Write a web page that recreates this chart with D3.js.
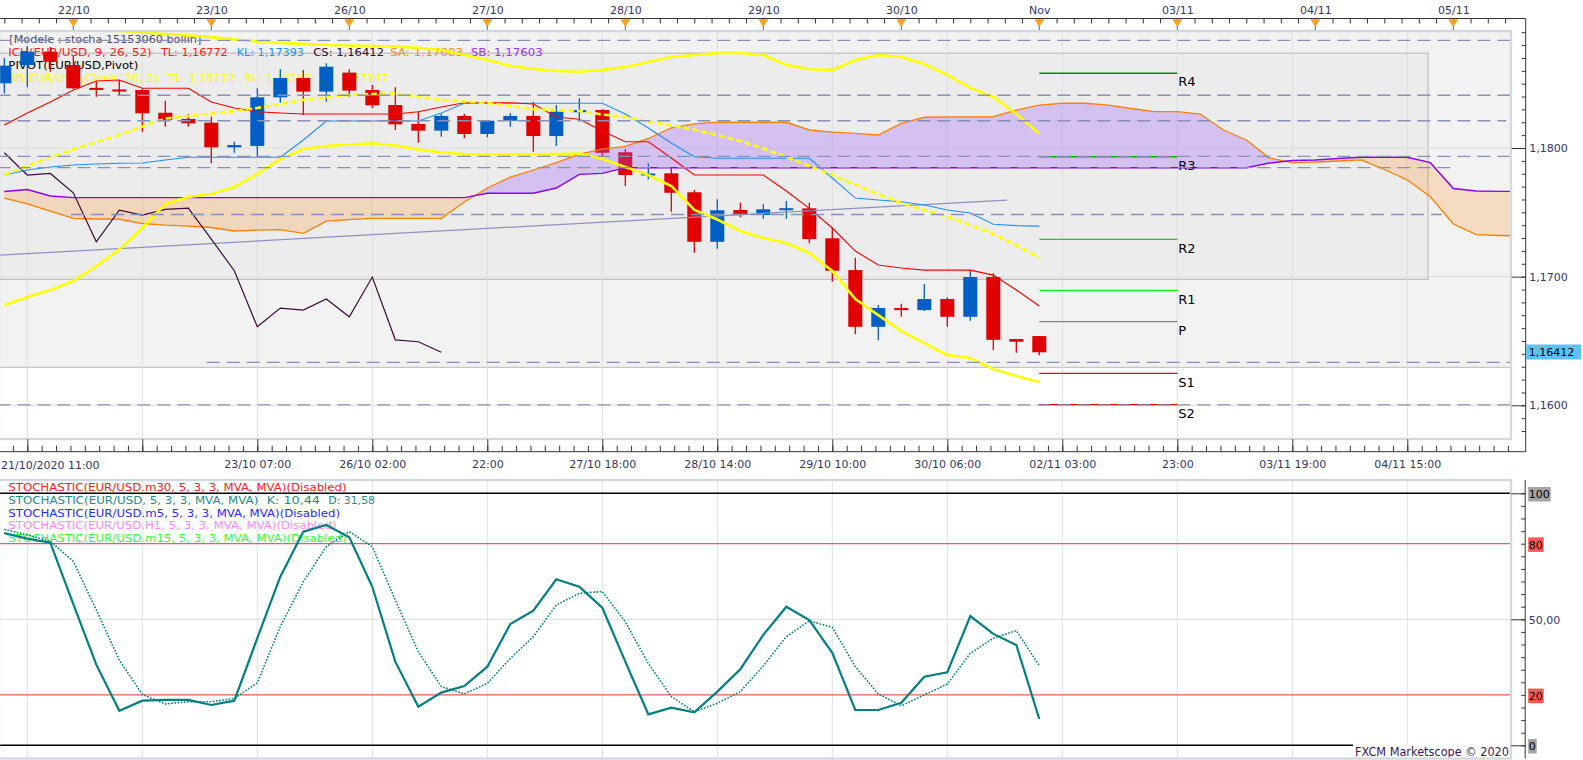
<!DOCTYPE html>
<html>
<head>
<meta charset="utf-8">
<title>EUR/USD H4 - Marketscope</title>
<script src="https://cdn.jsdelivr.net/npm/d3@7/dist/d3.min.js"></script>
<style>
html,body{margin:0;padding:0;background:#fff;overflow:hidden}
svg{display:block}
text{font-family:"DejaVu Sans",Verdana,sans-serif}
</style>
</head>
<body>
<svg id="chart" width="1583" height="760"></svg>
<script>
// ---------------- DATA ----------------
const candleTimes=["21/10 11:00","21/10 15:00","21/10 19:00","21/10 23:00","22/10 03:00","22/10 07:00","22/10 11:00","22/10 15:00","22/10 19:00","22/10 23:00","23/10 03:00","23/10 07:00","23/10 11:00","23/10 15:00","23/10 19:00","25/10 22:00","26/10 02:00","26/10 06:00","26/10 10:00","26/10 14:00","26/10 18:00","26/10 22:00","27/10 02:00","27/10 06:00","27/10 10:00","27/10 14:00","27/10 18:00","27/10 22:00","28/10 02:00","28/10 06:00","28/10 10:00","28/10 14:00","28/10 18:00","28/10 22:00","29/10 02:00","29/10 06:00","29/10 10:00","29/10 14:00","29/10 18:00","29/10 22:00","30/10 02:00","30/10 06:00","30/10 10:00","30/10 14:00","30/10 18:00","01/11 23:00"];
const openP=[1.18503,1.18645,1.18749,1.18645,1.18467,1.18455,1.18451,1.18274,1.18226,1.18197,1.18005,1.18016,1.18394,1.18544,1.18438,1.18586,1.18451,1.18334,1.18187,1.18135,1.18249,1.18109,1.18212,1.18249,1.18093,1.18278,1.18295,1.17967,1.17794,1.17803,1.17656,1.17271,1.17518,1.17479,1.17524,1.17531,1.17298,1.17051,1.16610,1.16756,1.16740,1.16826,1.16688,1.16997,1.16515,1.16538];
const highP=[1.18700,1.18793,1.18785,1.18715,1.18516,1.18529,1.18460,1.18368,1.18264,1.18243,1.18049,1.18464,1.18612,1.18607,1.18659,1.18612,1.18490,1.18472,1.18282,1.18264,1.18264,1.18218,1.18272,1.18360,1.18334,1.18386,1.18301,1.17990,1.17881,1.17850,1.17673,1.17601,1.17575,1.17562,1.17588,1.17575,1.17383,1.17147,1.16779,1.16789,1.16942,1.16839,1.17046,1.17026,1.16515,1.16538];
const lowP=[1.18425,1.18472,1.18593,1.18459,1.18399,1.18412,1.18127,1.18166,1.18166,1.17881,1.17963,1.17932,1.18352,1.18257,1.18360,1.18399,1.18311,1.18140,1.18041,1.18088,1.18075,1.18083,1.18166,1.17971,1.18016,1.18223,1.17932,1.17705,1.17757,1.17505,1.17186,1.17217,1.17461,1.17450,1.17450,1.17259,1.16960,1.16554,1.16507,1.16688,1.16733,1.16610,1.16657,1.16429,1.16408,1.16390];
const closeP=[1.18640,1.18749,1.18671,1.18464,1.18459,1.18447,1.18270,1.18218,1.18192,1.18005,1.18023,1.18394,1.18544,1.18438,1.18632,1.18446,1.18332,1.18184,1.18135,1.18249,1.18109,1.18212,1.18249,1.18093,1.18282,1.18295,1.17963,1.17790,1.17802,1.17652,1.17271,1.17516,1.17479,1.17523,1.17532,1.17292,1.17046,1.16610,1.16756,1.16740,1.16826,1.16688,1.16997,1.16509,1.16494,1.16412];
const tenkan=[1.18179,1.18272,1.18358,1.18451,1.18521,1.18529,1.18464,1.18464,1.18464,1.18358,1.18311,1.18282,1.18272,1.18264,1.18264,1.18264,1.18264,1.18264,1.18282,1.18319,1.18352,1.18352,1.18352,1.18342,1.18241,1.18223,1.18132,1.18049,1.18049,1.17922,1.17790,1.17790,1.17790,1.17790,1.17666,1.17531,1.17378,1.17199,1.17090,1.17067,1.17051,1.17051,1.17051,1.17012,1.16896,1.16772];
const kijun=[1.17790,1.17829,1.17852,1.17868,1.17876,1.17881,1.17883,1.17907,1.17928,1.17928,1.17928,1.17928,1.17928,1.18062,1.18210,1.18210,1.18210,1.18210,1.18210,1.18272,1.18348,1.18348,1.18348,1.18348,1.18348,1.18348,1.18348,1.18264,1.18156,1.18039,1.17932,1.17920,1.17920,1.17920,1.17920,1.17920,1.17767,1.17611,1.17596,1.17582,1.17557,1.17518,1.17495,1.17407,1.17397,1.17393];
const senkouA=[1.17611,1.17565,1.17510,1.17453,1.17448,1.17446,1.17413,1.17401,1.17393,1.17382,1.17355,1.17362,1.17366,1.17337,1.17432,1.17444,1.17453,1.17453,1.17453,1.17453,1.17580,1.17689,1.17774,1.17829,1.17887,1.17953,1.17992,1.18012,1.18074,1.18156,1.18187,1.18200,1.18200,1.18200,1.18200,1.18140,1.18124,1.18113,1.18101,1.18191,1.18239,1.18241,1.18241,1.18243,1.18295,1.18334,1.18348,1.18348,1.18334,1.18307,1.18282,1.18282,1.18264,1.18140,1.18062,1.17922,1.17887,1.17891,1.17899,1.17907,1.17833,1.17751,1.17621,1.17409,1.17327,1.17320,1.17316];
const senkouB=[1.17662,1.17677,1.17627,1.17614,1.17614,1.17614,1.17614,1.17614,1.17614,1.17614,1.17614,1.17614,1.17614,1.17614,1.17614,1.17614,1.17614,1.17614,1.17614,1.17614,1.17614,1.17648,1.17648,1.17648,1.17689,1.17795,1.17803,1.17847,1.17847,1.17847,1.17847,1.17847,1.17847,1.17847,1.17847,1.17847,1.17847,1.17847,1.17847,1.17847,1.17847,1.17847,1.17847,1.17847,1.17847,1.17847,1.17847,1.17847,1.17847,1.17847,1.17847,1.17847,1.17847,1.17847,1.17847,1.17883,1.17903,1.17907,1.17918,1.17928,1.17928,1.17928,1.17886,1.17685,1.17666,1.17663,1.17663];
const bbUpper=[1.18980,1.18964,1.18949,1.18933,1.18921,1.18910,1.18898,1.18886,1.18875,1.18862,1.18844,1.18828,1.18816,1.18809,1.18801,1.18797,1.18793,1.18789,1.18778,1.18762,1.18723,1.18684,1.18638,1.18614,1.18599,1.18593,1.18607,1.18630,1.18669,1.18708,1.18723,1.18739,1.18739,1.18723,1.18645,1.18612,1.18607,1.18684,1.18723,1.18708,1.18653,1.18568,1.18467,1.18397,1.18264,1.18112];
const bbMiddle=[1.17790,1.17860,1.17930,1.17988,1.18047,1.18101,1.18167,1.18229,1.18249,1.18268,1.18288,1.18311,1.18342,1.18373,1.18393,1.18412,1.18420,1.18425,1.18400,1.18373,1.18362,1.18350,1.18327,1.18301,1.18295,1.18288,1.18260,1.18241,1.18206,1.18175,1.18144,1.18101,1.18054,1.17996,1.17930,1.17860,1.17790,1.17716,1.17642,1.17572,1.17518,1.17466,1.17401,1.17331,1.17246,1.17147];
const bbLower=[1.16779,1.16841,1.16896,1.16966,1.17082,1.17212,1.17378,1.17565,1.17619,1.17642,1.17697,1.17798,1.17914,1.17992,1.18016,1.18027,1.18037,1.18019,1.17988,1.17965,1.17953,1.17952,1.17951,1.17952,1.17953,1.17957,1.17914,1.17852,1.17790,1.17705,1.17518,1.17444,1.17355,1.17300,1.17261,1.17184,1.17044,1.16826,1.16701,1.16577,1.16484,1.16390,1.16367,1.16281,1.16227,1.16181];
const stochK=[84.2,82,80.4,56,32,13.7,17.7,18,18,16,17.7,42.5,66.9,84.8,87.4,82.5,62.9,33.2,15.3,20.9,23.5,31.2,48.1,53.4,65.9,62.9,54.6,33.2,12.3,14.9,13.1,21.3,30.2,43.8,55,49.7,36.7,14,14,16.9,27.2,29,51.3,44.2,39.8,10.44];
const stochD=[85.7,83.5,81,73,53.7,33.8,20.2,16.4,17.3,17.3,18.6,24.8,47.1,64.9,78.8,84.8,78.8,57.7,37.1,23.3,20.4,24.6,34.5,43.1,55.7,60.3,61,49,32.5,19.3,13.3,16.7,21.3,31.5,43.1,49.4,46.8,31.2,20.4,15.7,20,24.3,36.5,42.5,45.5,31.58];
const pivotNames=["R4","R3","R2","R1","P","S1","S2"];
const pivotValues=[1.18581,1.17932,1.17290,1.16893,1.16651,1.16248,1.16005];
const pivotColors=["#008a00","#00a800","#22c422","#00ff00","#808080","#ff0000","#e00000"];
const dashedLevels=[1.18837,1.18410,1.18212,1.17935,1.17848,1.17483,1.16334,1.16004];
const dashedFrom=[-0.3,-0.3,-0.3,-0.3,-0.3,2.9,8.8,-0.3];
const dashedTo=[66,66,65.3,66,62.9,62.5,66,66];
const trendIdx=[-0.19,43.6];
const trendPrice=[1.17168,1.17595];
const zoneLevels=[1.18737,1.16979,1.16295];
const dayLabels=["22/10","23/10","26/10","27/10","28/10","29/10","30/10","Nov","03/11","04/11","05/11"];
const timeLabels=["23/10 07:00","26/10 02:00","22:00","27/10 18:00","28/10 14:00","29/10 10:00","30/10 06:00","02/11 03:00","23:00","03/11 19:00","04/11 15:00"];
const firstTimeLabel="21/10/2020 11:00";
const priceTicks=[1.16,1.17,1.18];
const stochLevels=[100,80,50,20,0];
const lastPrice=1.16412;

// ---------------- SCALES ----------------
const svg=d3.select("#chart");
const W=1583,H=760;
const x=d3.scaleLinear().domain([0,1]).range([4.3,27.3]);
const y=d3.scaleLinear().domain([1.16,1.18]).range([405.3,148]);
const ys=d3.scaleLinear().domain([0,100]).range([745.3,493.3]);
const PR=1511, PT=31, PB=439, SPT=480, SPB=758.5, AX=1525.7;
const axisColor="#363636", labelColor="#35356e";

svg.append("rect").attr("width",W).attr("height",H).attr("fill","#fff");
const defs=svg.append("defs");
defs.append("clipPath").attr("id","mainClip").append("rect").attr("x",0).attr("y",PT).attr("width",PR).attr("height",PB-PT);
defs.append("clipPath").attr("id","stochClip").append("rect").attr("x",0).attr("y",SPT).attr("width",PR).attr("height",SPB-SPT);

// ---------------- MAIN PANEL ----------------
const main=svg.append("g").attr("clip-path","url(#mainClip)");
main.append("rect").attr("x",0).attr("y",PT).attr("width",PR).attr("height",PB-PT).attr("fill","#ffffff");
main.append("rect").attr("x",0).attr("y",PT).attr("width",PR).attr("height",y(zoneLevels[2])-PT).attr("fill","#f2f2f2");
main.append("line").attr("x1",0).attr("x2",PR).attr("y1",y(zoneLevels[2])).attr("y2",y(zoneLevels[2])).attr("stroke","#c6c6c6").attr("stroke-width",1.2);
main.append("rect").attr("x",-1).attr("y",y(zoneLevels[0])).attr("width",1429).attr("height",y(zoneLevels[1])-y(zoneLevels[0])).attr("fill","#ececec").attr("stroke","#bdbdbd").attr("stroke-width",1.2);

const gridIdx=d3.range(1,66,5);
main.selectAll(".vg").data(gridIdx).join("line").attr("x1",d=>x(d)).attr("x2",d=>x(d)).attr("y1",PT).attr("y2",PB).attr("stroke","#dedede").attr("stroke-width",1);
main.selectAll(".hg").data(priceTicks).join("line").attr("x1",0).attr("x2",PR).attr("y1",d=>y(d)).attr("y2",d=>y(d)).attr("stroke","#dedede").attr("stroke-width",1);

// legend (drawn under candles)
function legendText(g,segs,yc,size){
  segs.forEach(s=>{
    g.append("text").attr("x",s.x).attr("y",yc).attr("dy","0.36em").attr("font-size",size)
     .attr("fill",s.c).attr("textLength",s.w).attr("lengthAdjust","spacingAndGlyphs").text(s.t);
  });
}
const lg=svg.append("g");
legendText(lg,[{t:"[Modele : stocha 15153060 bollin]",x:9.3,w:192,c:"#4c4c6c"}],39,11.2);
legendText(lg,[{t:"ICH(EUR/USD, 9, 26, 52)",x:8.3,w:143.4,c:"#ff1a1a"},{t:"TL: 1,16772",x:161,w:66.7,c:"#ff1a1a"},{t:"KL: 1,17393",x:236.7,w:67.3,c:"#1e90ff"},{t:"CS: 1,16412",x:313.3,w:70.7,c:"#3a0a3a"},{t:"SA: 1,17083",x:390,w:73.3,c:"#ff8c1a"},{t:"SB: 1,17603",x:470.7,w:72,c:"#9b30ff"}],51.7,11.2);
legendText(lg,[{t:"PIVOT(EUR/USD,Pivot)",x:8.3,w:130,c:"#000"}],65,11.2);
legendText(lg,[{t:"BB(EUR/USD,Close, 20, 2)",x:8.3,w:150,c:"#ffff00"},{t:"TL: 1,18112",x:168.3,w:66.7,c:"#ffff00"},{t:"BL: 1,16181",x:245,w:66.7,c:"#ffff00"},{t:"AL: 1,17147",x:321.7,w:66.7,c:"#ffff00"}],77.7,11.2);

const plot=svg.append("g").attr("clip-path","url(#mainClip)");
// candles
const cd=candleTimes.map((t,i)=>({i,t,o:openP[i],h:highP[i],l:lowP[i],c:closeP[i]}));
const colUp="#005ec4", colDn="#e00000";
plot.selectAll(".wick").data(cd).join("line").attr("x1",d=>x(d.i)).attr("x2",d=>x(d.i))
  .attr("y1",d=>y(d.h)).attr("y2",d=>y(d.l)).attr("stroke",d=>d.c>=d.o?colUp:colDn).attr("stroke-width",1.3);
plot.selectAll(".body").data(cd).join("rect").attr("x",d=>x(d.i)-7).attr("width",14)
  .attr("y",d=>Math.min(y(d.o),y(d.c))).attr("height",d=>Math.max(2,Math.abs(y(d.o)-y(d.c))))
  .attr("fill",d=>d.c>=d.o?colUp:colDn);

// cloud
const spanIdx=senkouA.map((v,i)=>i);
const cloudArea=d3.area().x(i=>x(i)).y0(i=>y(senkouB[i])).y1(i=>y(senkouA[i]));
defs.append("clipPath").attr("id","aboveB").append("path").attr("d",d3.area().x(i=>x(i)).y0(0).y1(i=>y(senkouB[i]))(spanIdx));
defs.append("clipPath").attr("id","belowB").append("path").attr("d",d3.area().x(i=>x(i)).y0(i=>y(senkouB[i])).y1(H)(spanIdx));
plot.append("g").attr("clip-path","url(#aboveB)").append("path").attr("d",cloudArea(spanIdx)).attr("fill","#9a5cff").attr("fill-opacity",0.3);
plot.append("g").attr("clip-path","url(#belowB)").append("path").attr("d",cloudArea(spanIdx)).attr("fill","#ff8a10").attr("fill-opacity",0.22);

const lineGen=arr=>d3.line().x((d,i)=>x(i)).y(d=>y(d))(arr);
plot.append("path").attr("d",lineGen(senkouA)).attr("fill","none").attr("stroke","#ff8000").attr("stroke-width",1.3);
plot.append("path").attr("d",lineGen(senkouB)).attr("fill","none").attr("stroke","#8a00ff").attr("stroke-width",1.4);
// trend line
plot.append("line").attr("x1",x(trendIdx[0])).attr("x2",x(trendIdx[1])).attr("y1",y(trendPrice[0])).attr("y2",y(trendPrice[1])).attr("stroke","#8a92c2").attr("stroke-width",1.2);
// chikou: close shifted 26 periods back
const chikou=closeP.slice(26);
plot.append("path").attr("d",lineGen(chikou)).attr("fill","none").attr("stroke","#3c0a3c").attr("stroke-width",1.2);
plot.append("path").attr("d",lineGen(kijun)).attr("fill","none").attr("stroke","#1e90ff").attr("stroke-width",1.1);
plot.append("path").attr("d",lineGen(tenkan)).attr("fill","none").attr("stroke","#ff0000").attr("stroke-width",1.1);
// Bollinger
plot.append("path").attr("d",lineGen(bbUpper)).attr("fill","none").attr("stroke","#ffff00").attr("stroke-width",2.6);
plot.append("path").attr("d",lineGen(bbLower)).attr("fill","none").attr("stroke","#ffff00").attr("stroke-width",2.6);
plot.append("path").attr("d",lineGen(bbMiddle)).attr("fill","none").attr("stroke","#ffff00").attr("stroke-width",2.6).attr("stroke-dasharray","6,3");

// pivots
const pv=pivotNames.map((n,i)=>({n,v:pivotValues[i],c:pivotColors[i]}));
plot.selectAll(".pv").data(pv).join("line").attr("x1",x(45)).attr("x2",x(51)).attr("y1",d=>y(d.v)).attr("y2",d=>y(d.v)).attr("stroke",d=>d.c).attr("stroke-width",1.3);
plot.selectAll(".pvt").data(pv).join("text").attr("x",x(51)+1).attr("y",d=>y(d.v)+8.5).attr("dy","0.36em").attr("font-size",13).attr("fill","#000").text(d=>d.n);

// dashed levels
const dl=dashedLevels.map((v,i)=>({v,a:dashedFrom[i],b:dashedTo[i]}));
plot.selectAll(".dl").data(dl).join("line").attr("x1",d=>x(d.a)).attr("x2",d=>x(d.b)).attr("y1",d=>y(d.v)).attr("y2",d=>y(d.v))
  .attr("stroke","#8890b8").attr("stroke-width",1.3).attr("stroke-dasharray","13,7");

// main border
svg.append("rect").attr("x",-1).attr("y",PT).attr("width",PR+1).attr("height",PB-PT).attr("fill","none").attr("stroke","#d2d9e1").attr("stroke-width",2.4);

// ---------------- TOP AXIS ----------------
const topY=18.5;
svg.append("line").attr("x1",0).attr("x2",AX).attr("y1",topY).attr("y2",topY).attr("stroke",axisColor);
const gtm=svg.append("g").attr("transform",`translate(0,${topY})`).attr("color",axisColor)
  .call(d3.axisBottom(x).tickValues(d3.range(0,66,0.75)).tickSize(5).tickFormat(""));
gtm.select(".domain").remove();
const dayIdx=dayLabels.map((d,i)=>3+6*i);
const gtl=svg.append("g").attr("transform",`translate(0,${topY})`).attr("color",labelColor)
  .call(d3.axisTop(x).tickValues(dayIdx).tickSize(0).tickPadding(5).tickFormat((d,i)=>dayLabels[i]));
gtl.select(".domain").remove();
gtl.selectAll("text").attr("font-size",11).attr("font-family","DejaVu Sans").attr("fill",labelColor);
svg.selectAll(".tri").data(dayIdx).join("path").attr("d",d=>`M${x(d)-5},19.3L${x(d)+5},19.3L${x(d)},27Z`).attr("fill","#f7a21e");
svg.selectAll(".stem").data(dayIdx).join("line").attr("x1",d=>x(d)).attr("x2",d=>x(d)).attr("y1",26).attr("y2",30).attr("stroke","#666");

// ---------------- PRICE AXIS ----------------
svg.append("line").attr("x1",AX).attr("x2",AX).attr("y1",topY).attr("y2",451.7).attr("stroke",axisColor);
const minorP=d3.range(1158,1190).map(v=>v/1000);
const gpm=svg.append("g").attr("transform",`translate(${AX},0)`).attr("color",axisColor)
  .call(d3.axisLeft(y).tickValues(minorP).tickSize(4).tickFormat(""));
gpm.select(".domain").remove();
const gpM=svg.append("g").attr("transform",`translate(${AX},0)`).attr("color",axisColor)
  .call(d3.axisLeft(y).tickValues(priceTicks).tickSize(14).tickFormat(""));
gpM.select(".domain").remove();
const gpl=svg.append("g").attr("transform",`translate(${AX},0)`).attr("color",labelColor)
  .call(d3.axisRight(y).tickValues(priceTicks).tickSize(0).tickPadding(3.5).tickFormat(d=>d.toFixed(4).replace(".",",")));
gpl.select(".domain").remove();
gpl.selectAll("text").attr("font-size",11).attr("font-family","DejaVu Sans").attr("fill",labelColor);
svg.append("rect").attr("x",AX+0.5).attr("y",y(lastPrice)-7.8).attr("width",55).attr("height",15).attr("fill","#5cc2f5");
svg.append("text").attr("x",AX+3).attr("y",y(lastPrice)).attr("dy","0.36em").attr("font-size",11).attr("fill","#000").text(lastPrice.toFixed(5).replace(".",","));

// ---------------- BOTTOM TIME AXIS ----------------
const botY=451.7;
svg.append("line").attr("x1",0).attr("x2",AX).attr("y1",botY).attr("y2",botY).attr("stroke",axisColor);
const gbm=svg.append("g").attr("transform",`translate(0,${botY})`).attr("color",axisColor)
  .call(d3.axisTop(x).tickValues(d3.range(0.375,65.6,0.625)).tickSize(6).tickFormat(""));
gbm.select(".domain").remove();
const gbM=svg.append("g").attr("transform",`translate(0,${botY})`).attr("color",axisColor)
  .call(d3.axisTop(x).tickValues(gridIdx).tickSize(12.5).tickFormat(""));
gbM.select(".domain").remove();
const timeIdx=timeLabels.map((d,i)=>11+5*i);
const gbl=svg.append("g").attr("transform",`translate(0,${botY})`).attr("color",labelColor)
  .call(d3.axisBottom(x).tickValues(timeIdx).tickSize(0).tickPadding(8.5).tickFormat((d,i)=>timeLabels[i]));
gbl.select(".domain").remove();
gbl.selectAll("text").attr("font-size",11).attr("font-family","DejaVu Sans").attr("fill",labelColor);
svg.append("text").attr("x",1).attr("y",botY+13.3).attr("dy","0.36em").attr("font-size",11).attr("fill",labelColor).text(firstTimeLabel);

// ---------------- STOCHASTIC PANEL ----------------
const st=svg.append("g").attr("clip-path","url(#stochClip)");
st.append("rect").attr("x",0).attr("y",SPT).attr("width",PR).attr("height",SPB-SPT).attr("fill","#fff");
st.selectAll(".svg").data(gridIdx).join("line").attr("x1",d=>x(d)).attr("x2",d=>x(d)).attr("y1",SPT).attr("y2",SPB).attr("stroke","#e0e0e0");
st.append("line").attr("x1",0).attr("x2",PR).attr("y1",ys(50)).attr("y2",ys(50)).attr("stroke","#dedede");
[80,20].forEach(v=>st.append("line").attr("x1",0).attr("x2",PR).attr("y1",ys(v)).attr("y2",ys(v)).attr("stroke","#f05a5a").attr("stroke-width",1.2));
[100,0].forEach(v=>st.append("line").attr("x1",0).attr("x2",PR).attr("y1",ys(v)).attr("y2",ys(v)).attr("stroke","#000").attr("stroke-width",1.6));

const sl=svg.append("g");
legendText(sl,[{t:"STOCHASTIC(EUR/USD.m30, 5, 3, 3, MVA, MVA)(Disabled)",x:8.3,w:338.3,c:"#ff2020"}],486.7,11.3);
legendText(sl,[{t:"STOCHASTIC(EUR/USD, 5, 3, 3, MVA, MVA)",x:8.3,w:250,c:"#1c8c8c"},{t:"K: 10,44",x:266.7,w:53.3,c:"#1c8c8c"},{t:"D: 31,58",x:328.3,w:46.7,c:"#1c8c8c"}],500,11.3);
legendText(sl,[{t:"STOCHASTIC(EUR/USD.m5, 5, 3, 3, MVA, MVA)(Disabled)",x:8.3,w:331.7,c:"#2a2aff"}],512.7,11.3);
legendText(sl,[{t:"STOCHASTIC(EUR/USD.H1, 5, 3, 3, MVA, MVA)(Disabled)",x:8.3,w:328.3,c:"#ff88ff"}],525.3,11.3);
legendText(sl,[{t:"STOCHASTIC(EUR/USD.m15, 5, 3, 3, MVA, MVA)(Disabled)",x:8.3,w:338.3,c:"#33ff33"}],538.3,11.3);

const st2=svg.append("g").attr("clip-path","url(#stochClip)");
const sLine=arr=>d3.line().x((d,i)=>x(i)).y(d=>ys(d))(arr);
st2.append("path").attr("d",sLine(stochD)).attr("fill","none").attr("stroke","#008080").attr("stroke-width",1.6).attr("stroke-dasharray","1.6,1.6");
st2.append("path").attr("d",sLine(stochK)).attr("fill","none").attr("stroke","#008080").attr("stroke-width",2.2);

svg.append("rect").attr("x",1353).attr("y",744).attr("width",157).attr("height",14).attr("fill","#fff");
svg.append("text").attr("x",1355).attr("y",751.7).attr("dy","0.36em").attr("font-size",11.5).attr("fill","#3c1464")
  .attr("textLength",154).attr("lengthAdjust","spacingAndGlyphs").text("FXCM Marketscope \u00a9 2020");
svg.append("rect").attr("x",-1).attr("y",SPT).attr("width",PR+1).attr("height",SPB-SPT).attr("fill","none").attr("stroke","#d2d9e1").attr("stroke-width",2.4);

// stoch axis
svg.append("line").attr("x1",AX-0.5).attr("x2",AX-0.5).attr("y1",SPT).attr("y2",SPB).attr("stroke",axisColor);
const gsm=svg.append("g").attr("transform",`translate(${AX-0.5},0)`).attr("color",axisColor)
  .call(d3.axisLeft(ys).tickValues(d3.range(0,101,5)).tickSize(4).tickFormat(""));
gsm.select(".domain").remove();
const gsM=svg.append("g").attr("transform",`translate(${AX-0.5},0)`).attr("color",axisColor)
  .call(d3.axisLeft(ys).tickValues([0,50,100]).tickSize(14).tickFormat(""));
gsM.select(".domain").remove();
const sBg={100:"#a4a4a4",80:"#ff5555",20:"#ff5555",0:"#a4a4a4"};
stochLevels.forEach(v=>{
  const lab=v===50?"50,00":String(v);
  const g=svg.append("g");
  const r=g.append("rect");
  const t=g.append("text").attr("x",AX+3).attr("y",ys(v)+1).attr("dy","0.36em").attr("font-size",11)
     .attr("fill",v===50?labelColor:"#000").text(lab);
  if(sBg[v]){
    const w=t.node().getComputedTextLength();
    r.attr("x",AX+2.5).attr("y",ys(v)-6.3).attr("width",w+1.5).attr("height",14.5).attr("fill",sBg[v]);
  } else {
    r.remove();
  }
});
</script>
</body>
</html>
